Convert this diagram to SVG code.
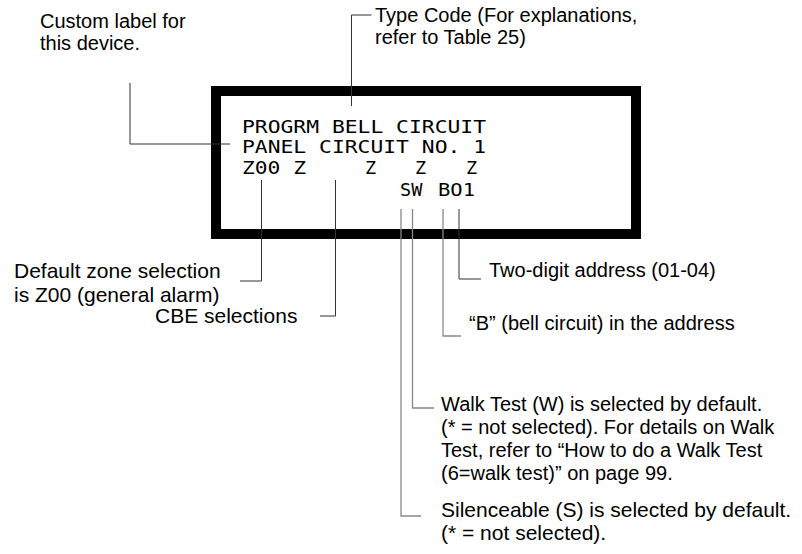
<svg xmlns="http://www.w3.org/2000/svg" width="802" height="554" viewBox="0 0 802 554">
<style>
.lbl{font-family:"Liberation Sans",Arial,sans-serif;font-size:20px;fill:#000}
.big{font-size:21px}
.lcd{font-family:"DejaVu Sans Mono","Liberation Mono",monospace;font-size:18.5px;fill:#000}
.ld{fill:none;stroke:#333;stroke-width:1}
.lg{fill:none;stroke:#888;stroke-width:1.3}
</style>
<rect width="802" height="554" fill="#fff"/>
<g id="display">
<rect x="216" y="91" width="420" height="143" fill="none" stroke="#000" stroke-width="10"/>
<text class="lcd" x="242" y="133" textLength="244" lengthAdjust="spacingAndGlyphs">PROGRM BELL CIRCUIT</text>
<text class="lcd" x="242" y="153" textLength="244" lengthAdjust="spacingAndGlyphs">PANEL CIRCUIT NO. 1</text>
<text class="lcd" x="242" y="174" textLength="64" lengthAdjust="spacingAndGlyphs">Z00 Z</text>
<text class="lcd" x="365" y="174">Z</text>
<text class="lcd" x="415" y="174">Z</text>
<text class="lcd" x="466" y="174">Z</text>
<text class="lcd" x="400" y="196">SW</text>
<text class="lcd" x="438" y="196" textLength="37" lengthAdjust="spacingAndGlyphs">BO1</text>
</g>
<g id="connectors">
<polyline class="ld" points="130,83 130,144 230,144"/>
<polyline class="ld" points="371.5,15 351.5,15 351.5,106"/>
<polyline class="ld" points="261.5,180 261.5,281 240,281"/>
<polyline class="ld" points="335.5,180 335.5,316 320,316"/>
<polyline class="ld" points="459,209 459,279 481,279"/>
<polyline class="lg" points="443,209 443,336 461,336"/>
<polyline class="lg" points="412.5,209 412.5,408 434,408"/>
<polyline class="lg" points="401,209 401,516 421,516"/>
</g>
<g id="custom-label"><text class="lbl" x="40" y="28">Custom label for</text><text class="lbl" x="40" y="50">this device.</text></g>
<g id="type-code"><text class="lbl" x="375" y="22">Type Code (For explanations,</text><text class="lbl" x="375" y="44">refer to Table 25)</text></g>
<g id="default-zone"><text class="lbl big" x="14" y="278">Default zone selection</text><text class="lbl big" x="14" y="302">is Z00 (general alarm)</text></g>
<g id="cbe"><text class="lbl big" x="155" y="323">CBE selections</text></g>
<g id="address"><text class="lbl" x="489" y="277">Two-digit address (01-04)</text></g>
<g id="bell"><text class="lbl" x="469" y="330">“B” (bell circuit) in the address</text></g>
<g id="walk-test"><text class="lbl" x="441" y="411">Walk Test (W) is selected by default.</text><text class="lbl" x="441" y="434">(* = not selected). For details on Walk</text><text class="lbl" x="441" y="457">Test, refer to “How to do a Walk Test</text><text class="lbl" x="441" y="480">(6=walk test)” on page 99.</text></g>
<g id="silenceable"><text class="lbl big" x="441" y="517">Silenceable (S) is selected by default.</text><text class="lbl big" x="441" y="540">(* = not selected).</text></g>
</svg>
